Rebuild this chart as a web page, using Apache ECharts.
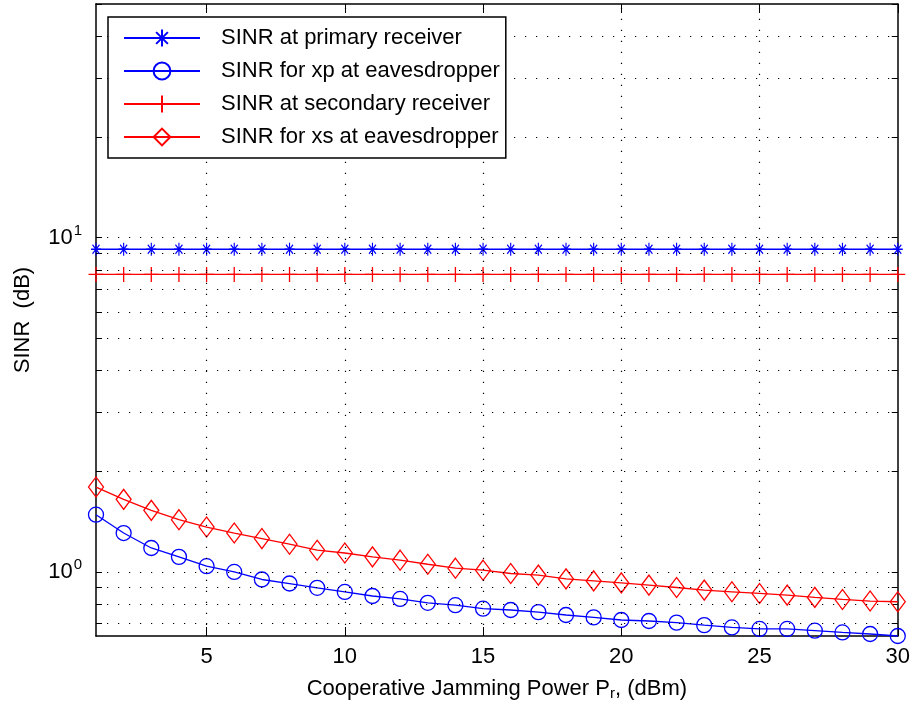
<!DOCTYPE html>
<html>
<head>
<meta charset="utf-8">
<script src="https://cdn.jsdelivr.net/npm/echarts@6/dist/echarts.min.js"></script>
<style>html,body{margin:0;padding:0;background:#fff;}#c{width:913px;height:706px;}</style>
</head>
<body>
<div id="c"></div>
<script>
// ---- data ----
const powerDbm = [1,2,3,4,5,6,7,8,9,10,11,12,13,14,15,16,17,18,19,20,21,22,23,24,25,26,27,28,29,30];
const sinrPrimary = [9.23,9.23,9.23,9.23,9.23,9.23,9.23,9.23,9.23,9.23,9.23,9.23,9.23,9.23,9.23,9.23,9.23,9.23,9.23,9.23,9.23,9.23,9.23,9.23,9.23,9.23,9.23,9.23,9.23,9.23];
const sinrXpEve = [1.483,1.307,1.179,1.109,1.040,1.000,0.949,0.923,0.896,0.871,0.847,0.830,0.808,0.795,0.776,0.769,0.758,0.743,0.731,0.718,0.713,0.705,0.693,0.682,0.675,0.675,0.667,0.659,0.652,0.643];
const sinrSecondary = [7.76,7.76,7.76,7.76,7.76,7.76,7.76,7.76,7.76,7.76,7.76,7.76,7.76,7.76,7.76,7.76,7.76,7.76,7.76,7.76,7.76,7.76,7.76,7.76,7.76,7.76,7.76,7.76,7.76,7.76];
const sinrXsEve = [1.794,1.648,1.528,1.433,1.362,1.307,1.258,1.210,1.161,1.139,1.109,1.084,1.054,1.026,1.012,0.989,0.978,0.953,0.940,0.927,0.913,0.898,0.882,0.872,0.862,0.852,0.839,0.827,0.818,0.814];
const seriesNames = ['SINR at primary receiver','SINR for xp at eavesdropper','SINR at secondary receiver','SINR for xs at eavesdropper'];
const xTicks = [5,10,15,20,25,30];
const xGrid = [5,10,15,20,25];
const yLabelTicks = [1,10];
const yTicks = [0.7,0.8,0.9,1,2,3,4,5,6,7,8,9,10,20,30,40,50];
const yGrid = [0.7,0.8,0.9,1,2,3,4,5,6,7,8,9,10,20,30,40];
const xMin = 1, xMax = 30, yMin = 0.643, yMax = 50;

const FONT = '"Liberation Sans", Arial, Helvetica, sans-serif';
const BLUE = '#0000ff', RED = '#ff0000';
const pair = arr => powerDbm.map((x, i) => [x, arr[i]]);

const axisLineStyle = {color: '#000', width: 1.5};
function xAxisCfg(pos, labels) {
  return {
    type: 'value', position: pos, min: xMin, max: xMax,
    axisLine: {show: true, onZero: false, lineStyle: axisLineStyle},
    axisTick: {show: true, inside: true, length: 9, customValues: xTicks, lineStyle: {color: '#000', width: 1}},
    axisLabel: {show: labels, customValues: xTicks, margin: 10, color: '#000', fontFamily: FONT, fontSize: 22},
    splitLine: {show: false}
  };
}
function yAxisCfg(pos, labels) {
  return {
    type: 'log', logBase: 10, position: pos, min: yMin, max: yMax,
    axisLine: {show: true, onZero: false, lineStyle: axisLineStyle},
    axisTick: {show: true, inside: true, length: 6, customValues: yTicks, lineStyle: {color: '#000', width: 1}},
    axisLabel: {
      show: labels, customValues: yLabelTicks, margin: 14, color: '#000', fontFamily: FONT, fontSize: 22,
      formatter: v => '10{sup|' + Math.round(Math.log10(v)) + '}',
      rich: {sup: {fontSize: 15, fontFamily: FONT, color: '#000', verticalAlign: 'top', padding: [0, 0, 14, 1]}}
    },
    splitLine: {show: false}
  };
}

const chart = echarts.init(document.getElementById('c'), null, {renderer: 'canvas'});
const starPath = 'path://M0,-10L0,10M-10,0L10,0M-7,-7L7,7M-7,7L7,-7';
const plusPath = 'path://M0,-10L0,10M-10,0L10,0';

function lineSeries(name, data, color, symbol, size) {
  return {
    name: name, type: 'line', data: pair(data), clip: false,
    symbol: symbol, symbolSize: size, showAllSymbol: true,
    lineStyle: {color: color, width: 1.3},
    itemStyle: {color: 'none', borderColor: color, borderWidth: 1.3},
    emphasis: {disabled: true}, z: 3
  };
}

chart.setOption({
  animation: false,
  backgroundColor: '#fff',
  grid: {left: 96, top: 4, right: 15, bottom: 70, containLabel: false},
  xAxis: [
    Object.assign(xAxisCfg('bottom', true), {
      name: 'Cooperative Jamming Power P{sub|r}, (dBm)', nameLocation: 'middle', nameGap: 40,
      nameTextStyle: {color: '#000', fontFamily: FONT, fontSize: 22,
        rich: {sub: {fontSize: 15, fontFamily: FONT, color: '#000', verticalAlign: 'bottom', padding: [10, 0, 0, 0]}}}
    }),
    xAxisCfg('top', false)
  ],
  yAxis: [
    Object.assign(yAxisCfg('left', true), {
      name: 'SINR  (dB)', nameLocation: 'middle', nameGap: 62,
      nameTextStyle: {color: '#000', fontFamily: FONT, fontSize: 22}
    }),
    yAxisCfg('right', false)
  ],
  legend: {
    data: seriesNames, orient: 'vertical', left: 108, top: 17,
    backgroundColor: '#fff', borderColor: '#000', borderWidth: 1.5, borderRadius: 0,
    padding: [10, 6, 10, 15], itemWidth: 76, itemHeight: 21, itemGap: 11,
    textStyle: {color: '#000', fontFamily: FONT, fontSize: 22, padding: [0, 0, 0, 16]},
    selectedMode: false, z: 10
  },
  series: [
    {
      name: 'grid', type: 'line', data: [[xMin, yMax]], symbol: 'none', silent: true,
      lineStyle: {width: 0, opacity: 0}, z: 1,
      markLine: {
        silent: true, symbol: ['none', 'none'], animation: false, label: {show: false},
        lineStyle: {type: [1.2, 9.8], color: '#000', width: 1.2},
        emphasis: {disabled: true},
        data: xGrid.map(v => ({xAxis: v})).concat(yGrid.map(v => ({yAxis: v})))
      }
    },
    lineSeries(seriesNames[0], sinrPrimary, BLUE, starPath, [10, 13]),
    lineSeries(seriesNames[1], sinrXpEve, BLUE, 'circle', 15),
    lineSeries(seriesNames[2], sinrSecondary, RED, plusPath, 15),
    lineSeries(seriesNames[3], sinrXsEve, RED, 'diamond', [15, 20])
  ]
});
</script>
</body>
</html>
